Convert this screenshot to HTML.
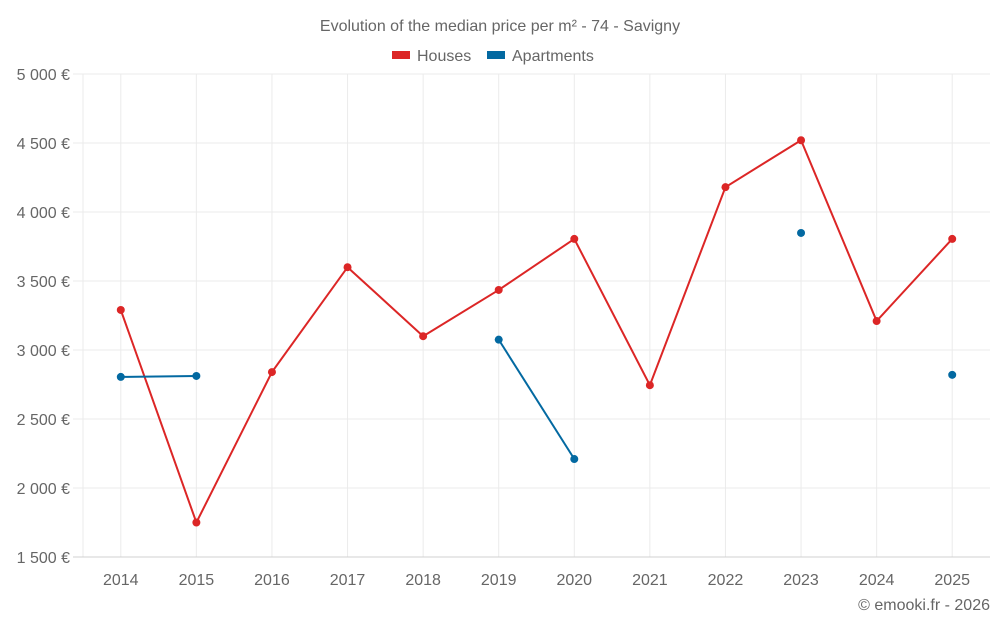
<!DOCTYPE html>
<html><head><meta charset="utf-8"><style>
body{margin:0;background:#fff;font-family:"Liberation Sans",sans-serif}
svg text{font-family:"Liberation Sans",sans-serif;fill:#666}
</style></head><body>
<svg id="c" width="1000" height="625">
<text x="500" y="31" text-anchor="middle" font-size="16">Evolution of the median price per m² - 74 - Savigny</text>
<g><rect x="392" y="51" width="18" height="8" fill="#dc2626"/><text x="417" y="61" font-size="16">Houses</text></g>
<g><rect x="487" y="51" width="18" height="8" fill="#0369a1"/><text x="512" y="61" font-size="16">Apartments</text></g>
<g id="grid"></g><g id="marks"></g>
<text x="990" y="610" text-anchor="end" font-size="16">© emooki.fr - 2026</text>
</svg>
<script>
const years=[2014,2015,2016,2017,2018,2019,2020,2021,2022,2023,2024,2025];
const houses=[3290,1750,2840,3600,3100,3435,3805,2745,4180,4520,3210,3805];
const apartments=[2805,2812,null,null,null,3075,2210,null,null,3848,null,2820];
const yTicks=[1500,2000,2500,3000,3500,4000,4500,5000];
const L=83,R=990,T=74,B=557,yMin=1500,yMax=5000;
const band=(R-L)/years.length;
const xs=i=>L+band*(i+0.5);
const ys=v=>B-(v-yMin)/(yMax-yMin)*(B-T);
const NS="http://www.w3.org/2000/svg";
const g=document.getElementById('grid'),m=document.getElementById('marks');
function mk(tag,a,p){const e=document.createElementNS(NS,tag);for(const k in a)e.setAttribute(k,a[k]);p.appendChild(e);return e;}
const lv=mk('line',{x1:L,x2:L,y1:T,y2:B,stroke:'#ebebeb'},g);


years.forEach((y,i)=>{const l=mk('line',{x1:xs(i),x2:xs(i),y1:T,y2:B,stroke:'#ebebeb'},g);
 
 
 const t=mk('text',{x:xs(i),y:585,'text-anchor':'middle','font-size':16},g);t.textContent=y;
 
 });
yTicks.forEach(v=>{
 const l=mk('line',{x1:73,x2:R,y1:ys(v),y2:ys(v),stroke:v==yMin?'#d0d0d0':'#ebebeb'},g);
 
 
 const t=mk('text',{x:70,y:ys(v)+6,'text-anchor':'end','font-size':16},g);
 t.textContent=v.toLocaleString('fr-FR').replace(/\s/g,' ')+' €';
 
 
});
function series(data,color,name){
 let seg=[];const segs=[];
 data.forEach((v,i)=>{if(v==null){if(seg.length)segs.push(seg);seg=[];}else seg.push([xs(i),ys(v)]);});
 if(seg.length)segs.push(seg);
 segs.forEach(s=>{if(s.length>1){const p=mk('polyline',{points:s.map(q=>q.join(',')).join(' '),fill:'none',stroke:color,'stroke-width':2},m);
  
  }});
 data.forEach((v,i)=>{if(v==null)return;const c=mk('circle',{cx:xs(i),cy:ys(v),r:4,fill:color},m);
  
  });
}
series(houses,'#dc2626','houses');
series(apartments,'#0369a1','apartments');
</script>
</body></html>
